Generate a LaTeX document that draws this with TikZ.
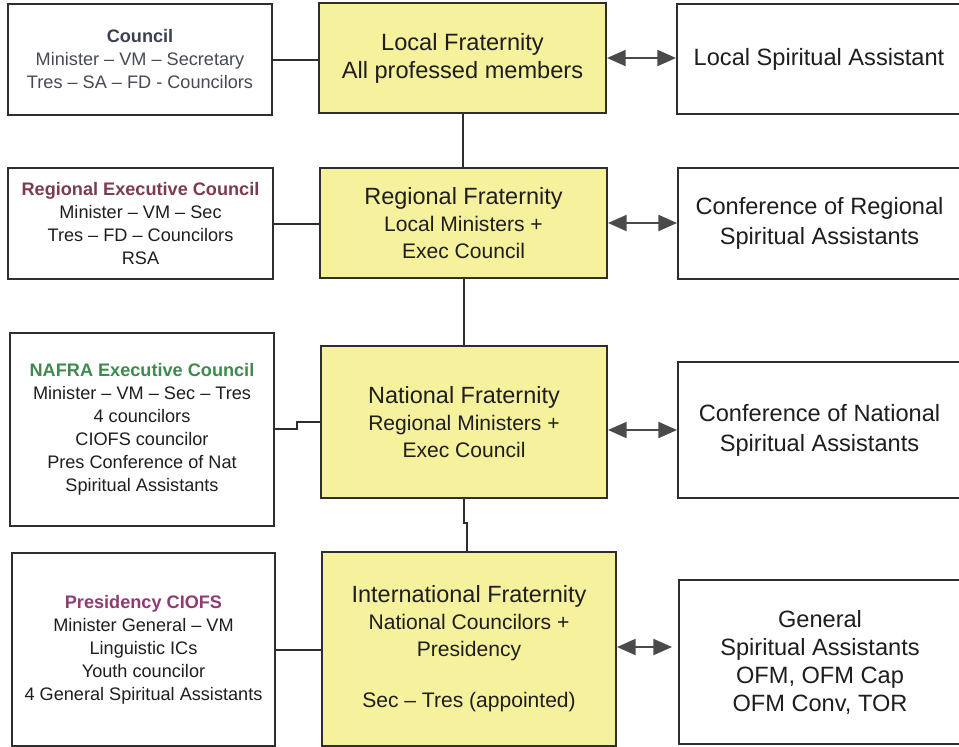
\documentclass[tikz,border=0pt]{standalone}
\usepackage{fontspec}
\setmainfont{Liberation Sans}
\usetikzlibrary{arrows.meta}
\newlength{\px}\setlength{\px}{0.75pt}
\definecolor{yel}{HTML}{F6F19C}
\definecolor{boxline}{HTML}{2E2E2E}
\definecolor{arrc}{HTML}{4A4A4A}
\definecolor{textc}{HTML}{1E1E1E}
\definecolor{counc}{HTML}{3A4150}
\definecolor{councbody}{HTML}{454A55}
\definecolor{regc}{HTML}{7E3B4E}
\definecolor{nafc}{HTML}{3F8A4E}
\definecolor{presc}{HTML}{8E3C74}
\begin{document}
\begin{tikzpicture}[x=0.75pt,y=-0.75pt,
  box/.style={draw=boxline, line width=1.5pt, inner sep=0pt, align=center, text=textc},
  ybox/.style={box, fill=yel},
  lfont/.style={font=\fontsize{13.6}{17.25}\selectfont},
  cfont/.style={font=\fontsize{17.6}{20.25}\selectfont},
  rfont/.style={font=\fontsize{17.7}{22.5}\selectfont},
  conn/.style={draw=boxline, line width=1.5pt},
  dbl/.style={draw=arrc, line width=1.5pt, {Triangle[length=14pt,width=12pt]}-{Triangle[length=14pt,width=12pt]}}
]
\fill[white] (0,0) rectangle (959,746);
\useasboundingbox (0,0) rectangle (959,746);

% left column
\node[box,lfont,text=councbody,minimum width=264\px,minimum height=111\px] (L1) at (140,59.5)
  {\textbf{\color{counc}Council}\\ Minister – VM – Secretary\\ Tres – SA – FD - Councilors};
\node[box,lfont,minimum width=265\px,minimum height=111\px] (L2) at (140.5,223.5)
  {\textbf{\color{regc}Regional Executive Council}\\ Minister – VM – Sec\\ Tres – FD – Councilors\\ RSA};
\node[box,lfont,minimum width=264\px,minimum height=193\px] (L3) at (142,429.5)
  {\textbf{\color{nafc}NAFRA Executive Council}\\ Minister – VM – Sec – Tres\\ 4 councilors\\ CIOFS councilor\\ Pres Conference of Nat\\ Spiritual Assistants};
\node[box,lfont,minimum width=263\px,minimum height=193\px] (L4) at (143.5,649.5)
  {\textbf{\color{presc}Presidency CIOFS}\\ Minister General – VM\\ Linguistic ICs\\ Youth councilor\\ 4 General Spiritual Assistants};

% center column
\node[ybox,font=\fontsize{17.7}{21}\selectfont,minimum width=287\px,minimum height=110\px] (C1) at (462.5,58)
  {Local Fraternity\\ All professed members};
\node[ybox,cfont,minimum width=287\px,minimum height=110\px] (C2) at (463.5,223)
  {Regional Fraternity\\ {\fontsize{15.8}{20.25}\selectfont Local Ministers +}\\ {\fontsize{15.8}{20.25}\selectfont Exec Council}};
\node[ybox,cfont,minimum width=286\px,minimum height=152\px] (C3) at (464,422)
  {National Fraternity\\ {\fontsize{15.8}{20.25}\selectfont Regional Ministers +}\\ {\fontsize{15.8}{20.25}\selectfont Exec Council}};
\node[ybox,cfont,minimum width=294\px,minimum height=194\px] (C4) at (469,649)
  {International Fraternity\\ {\fontsize{15.8}{20.25}\selectfont National Councilors +}\\ {\fontsize{15.8}{20.25}\selectfont Presidency}\\[24\px] {\fontsize{15.8}{20.25}\selectfont Sec – Tres (appointed)}};

% right column
\node[box,rfont,minimum width=284\px,minimum height=110\px] (R1) at (819,59)
  {Local Spiritual Assistant};
\node[box,rfont,minimum width=283\px,minimum height=111\px] (R2) at (819.5,223.5)
  {Conference of Regional\\ Spiritual Assistants};
\node[box,rfont,minimum width=283\px,minimum height=136\px] (R3) at (819.5,430)
  {Conference of National\\ Spiritual Assistants};
\node[box,font=\fontsize{17.7}{21}\selectfont,minimum width=282\px,minimum height=164\px] (R4) at (820,662)
  {General\\ Spiritual Assistants\\ OFM, OFM Cap\\ OFM Conv, TOR};

% left-to-center connectors
\draw[conn] (L1.east) -- (L1.east -| C1.west);
\draw[conn] (L2.east) -- (L2.east -| C2.west);
\coordinate (s3) at (297,429);
\draw[conn] (L3.east |- s3) -- (s3) |- (C3.west);
\draw[conn] (L4.east) -- (L4.east -| C4.west);

% vertical connectors
\draw[conn] (C1.south) -- (C1.south |- C2.north);
\draw[conn] (C2.south) -- (C2.south |- C3.north);
\coordinate (j4) at (467,523);
\draw[conn] (C3.south) |- (j4) -- (j4 |- C4.north);

% double arrows
\draw[dbl] (C1.east) -- (C1.east -| R1.west);
\draw[dbl] (C2.east) -- (C2.east -| R2.west);
\draw[dbl] (C3.east |- R3.west) -- (R3.west);
\coordinate (a4) at (672,647);
\draw[dbl] (C4.east |- a4) -- (a4);
\end{tikzpicture}
\end{document}
